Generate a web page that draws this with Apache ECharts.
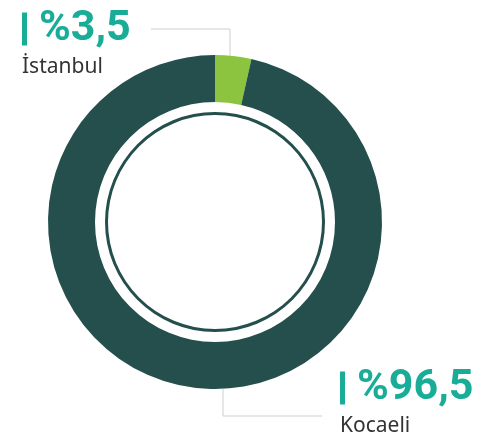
<!DOCTYPE html>
<html>
<head>
<meta charset="utf-8">
<script src="https://cdn.jsdelivr.net/npm/echarts@6/dist/echarts.min.js"></script>
<style>
  html, body { margin: 0; padding: 0; background: #fff; }
  #chart { width: 499px; height: 439px; }
</style>
</head>
<body>
<div id="chart"></div>
<script>
// data
const cities = ['İstanbul', 'Kocaeli']
const shares = [3.5, 96.5]
const colors = ['#8cc43f', '#244f4c']

// where each label block sits and where its leader line bends
const labelSpots = [
  { x: 22, y: 4, lineX: 230, lineY: 29, endX: 151 },
  { x: 340, y: 363, lineX: 223, lineY: 416, endX: 322 },
]

const center = [215, 222]
const outerR = 167

const chart = echarts.init(document.getElementById('chart'))

function fmt(v) {
  return '%' + String(v).replace('.', ',')
}

chart.setOption({
  animation: false,
  series: [
    {
      type: 'pie',
      center: center,
      radius: [120, outerR],
      startAngle: 90,
      clockwise: true,
      silent: true,
      data: cities.map((c, i) => ({
        name: c,
        value: shares[i],
        itemStyle: { color: colors[i] },
      })),
      label: {
        show: true,
        formatter: (p) => '{bar|}{val|' + fmt(p.value) + '}\n{name|' + p.name + '}',
        rich: {
          bar: { width: 5, height: 33, backgroundColor: '#19ad98' },
          val: {
            fontFamily: 'Roboto',
            fontWeight: 'bold',
            fontSize: 43,
            color: '#19ad98',
            lineHeight: 50,
            padding: [0, 0, 0, 12],
          },
          name: {
            fontFamily: 'Noto Sans',
            fontSize: 21,
            color: '#333',
            lineHeight: 26,
          },
        },
      },
      labelLine: {
        show: true,
        lineStyle: { color: '#cfcfcf', width: 1 },
      },
      labelLayout: (params) => {
        const s = labelSpots[params.dataIndex]
        const dx = s.lineX - center[0]
        const dy = Math.sqrt(outerR * outerR - dx * dx)
        const startY = params.dataIndex === 0 ? center[1] - dy : center[1] + dy
        return {
          x: s.x,
          y: s.y,
          align: 'left',
          verticalAlign: 'top',
          labelLinePoints: [
            [s.lineX, startY],
            [s.lineX, s.lineY],
            [s.endX, s.lineY],
          ],
        }
      },
    },
    {
      type: 'pie',
      center: center,
      radius: [107, 110],
      silent: true,
      label: { show: false },
      labelLine: { show: false },
      data: [{ value: 1, itemStyle: { color: '#244f4c' } }],
    },
  ],
})
</script>
</body>
</html>
